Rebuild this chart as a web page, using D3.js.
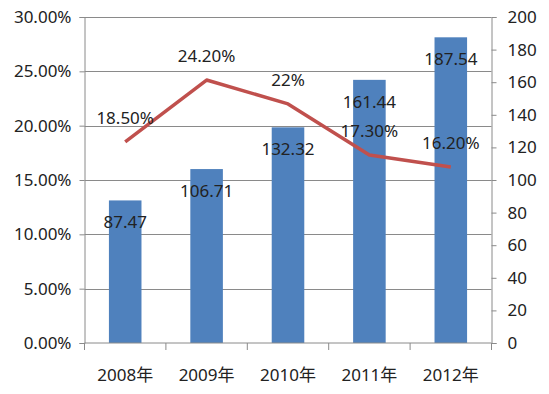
<!doctype html>
<html>
<head>
<meta charset="utf-8">
<script src="https://cdnjs.cloudflare.com/ajax/libs/d3/7.8.5/d3.min.js"></script>
<style>
  body { margin: 0; background: #fff; }
  svg text { font-family: "Noto Sans", "Noto Sans CJK SC", sans-serif; font-size: 17px; fill: #222; }
</style>
</head>
<body>
<svg id="chart" width="549" height="394"></svg>
<script>
var years = ["2008年", "2009年", "2010年", "2011年", "2012年"];
var amounts = [87.47, 106.71, 132.32, 161.44, 187.54];
var growth = [18.5, 24.2, 22, 17.3, 16.2];
var growthLabels = ["18.50%", "24.20%", "22%", "17.30%", "16.20%"];
var leftTicks = [0, 5, 10, 15, 20, 25, 30];
var rightTicks = [0, 20, 40, 60, 80, 100, 120, 140, 160, 180, 200];

var mLeft = 84.5, mRight = 491.5, mTop = 17, mBottom = 343;
var svg = d3.select("#chart");

var x = d3.scaleBand().domain(years).range([mLeft, mRight]).paddingInner(0.6).paddingOuter(0.3);
var yL = d3.scaleLinear().domain([0, 30]).range([mBottom, mTop]);
var yR = d3.scaleLinear().domain([0, 200]).range([mBottom, mTop]);

// gridlines
svg.append("g").selectAll("line").data(leftTicks.slice(1)).enter().append("line")
  .attr("x1", mLeft).attr("x2", mRight)
  .attr("y1", d => Math.round(yL(d)) + 0.5).attr("y2", d => Math.round(yL(d)) + 0.5)
  .attr("stroke", "#8a8a8a").attr("stroke-width", 1);

// bars
svg.append("g").selectAll("rect").data(amounts).enter().append("rect")
  .attr("x", (d, i) => x(years[i]))
  .attr("width", x.bandwidth())
  .attr("y", d => yR(d))
  .attr("height", d => mBottom - yR(d))
  .attr("fill", "#4F81BD");

// axes
var axL = svg.append("g").attr("transform", "translate(" + mLeft + ",0)")
  .call(d3.axisLeft(yL).tickValues(leftTicks).tickSize(5).tickPadding(8)
    .tickFormat(d => d.toFixed(2) + "%"));
var axR = svg.append("g").attr("transform", "translate(" + mRight + ",0)")
  .call(d3.axisRight(yR).tickValues(rightTicks).tickSize(5).tickPadding(11));
var axB = svg.append("g").attr("transform", "translate(0," + mBottom + ")")
  .call(d3.axisBottom(x).tickSize(0).tickPadding(26));
[axL, axR, axB].forEach(function (g) {
  g.select(".domain").attr("stroke", "#8a8a8a");
  g.selectAll(".tick line").attr("stroke", "#8a8a8a");
  g.selectAll("text").style("font-size", "17px").attr("fill", "#222");
});
axB.select(".domain").attr("d", "M" + mLeft + ",0H" + mRight);
// category boundary ticks
svg.append("g").selectAll("line").data(d3.range(years.length + 1)).enter().append("line")
  .attr("x1", d => mLeft + d * (mRight - mLeft) / years.length)
  .attr("x2", d => mLeft + d * (mRight - mLeft) / years.length)
  .attr("y1", mBottom).attr("y2", mBottom + 7)
  .attr("stroke", "#8a8a8a");

// line
var cx = (d, i) => x(years[i]) + x.bandwidth() / 2;
svg.append("path").datum(growth)
  .attr("d", d3.line().x(cx).y(d => yL(d)))
  .attr("fill", "none").attr("stroke", "#C0504D").attr("stroke-width", 3.5)
  .attr("stroke-linejoin", "round");

// bar labels
svg.append("g").selectAll("text").data(amounts).enter().append("text")
  .attr("x", cx).attr("y", d => yR(d) + 28)
  .attr("text-anchor", "middle")
  .text(d => d.toFixed(2));

// line labels
svg.append("g").selectAll("text").data(growth).enter().append("text")
  .attr("x", cx).attr("y", d => yL(d) - 18)
  .attr("text-anchor", "middle")
  .text((d, i) => growthLabels[i]);
</script>
</body>
</html>
